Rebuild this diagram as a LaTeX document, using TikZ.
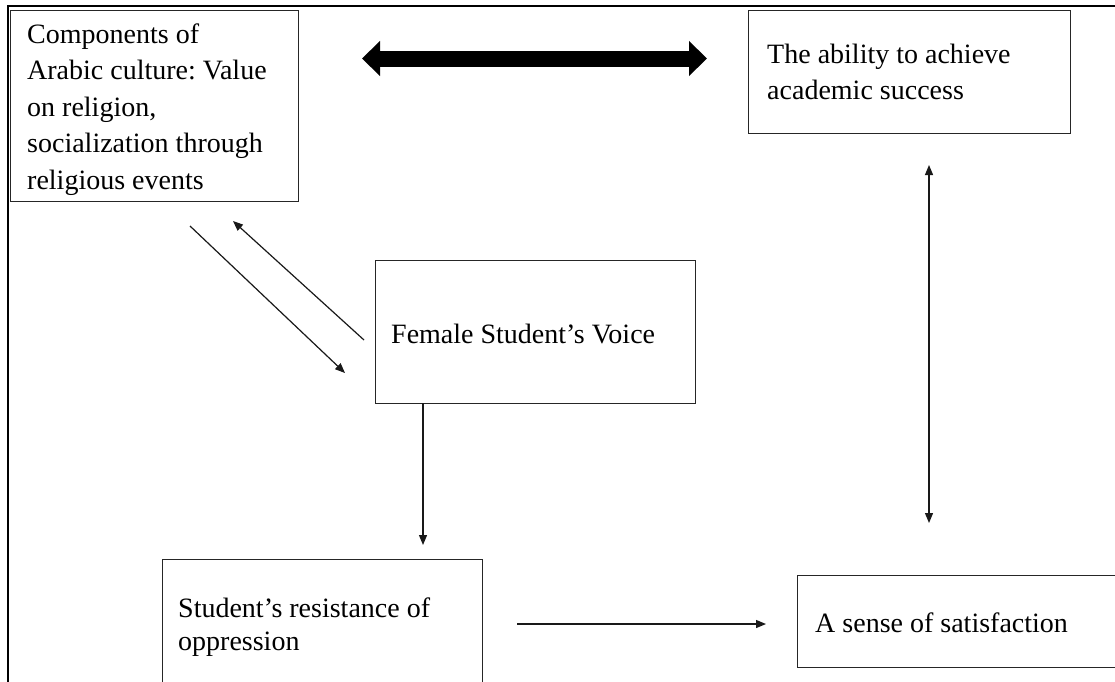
\documentclass[tikz,border=0pt]{standalone}
\usepackage{fontspec}
\setmainfont{Liberation Serif}
\usetikzlibrary{arrows.meta}
\frenchspacing
\newcommand{\mylines}[1]{\begin{tabular}[t]{@{}l@{}}#1\end{tabular}}
\begin{document}
\begin{tikzpicture}[x=1pt,y=-1pt,
  frame/.style={line width=2pt, draw=black},
  box/.style={draw=black!85, line width=1.4pt, inner sep=0pt, anchor=north west},
  txt/.style={anchor=base west, inner sep=0pt, font=\fontsize{28}{36.5}\selectfont\frenchspacing},
  txtb/.style={anchor=base west, inner sep=0pt, font=\fontsize{28}{33}\selectfont\frenchspacing},
  conn/.style={line width=1.2pt, draw=black!90, -{Triangle[length=10pt,width=8pt]}},
  dconn/.style={line width=1.2pt, draw=black!90, {Triangle[length=10pt,width=8pt]}-{Triangle[length=10pt,width=8pt]}},
  thick arrow/.style={line width=16pt, {Triangle[length=18pt,width=34pt]}-{Triangle[length=18pt,width=34pt]}}]
\useasboundingbox (0,0) rectangle (1115,681);
\clip (0,0) rectangle (1115,681);
\fill[white] (0,0) rectangle (1115,681);
% outer frame
\draw[frame] (8,690) -- (8,6) -- (1120,6);
% boxes
\node[box, minimum width=288pt, minimum height=191pt] (b1) at (10,10) {};
\node[box, minimum width=322pt, minimum height=123pt] (b2) at (748,10) {};
\node[box, minimum width=320pt, minimum height=143pt] (b3) at (375,260) {};
\node[box, minimum width=320pt, minimum height=140pt] (b4) at (162,559) {};
\node[box, minimum width=340pt, minimum height=92pt] (b5) at (797,575) {};
% texts
\node[txt] (t1) at (27,43.3) {\mylines{Components of\\Arabic culture: Value\\on religion,\\socialization through\\religious events}};
\node[txt] (t2) at (767,63) {\mylines{The ability to achieve\\academic success}};
\node[txt] (t3) at (391,343) {Female Student’s Voice};
\node[txtb] (t4) at (178,617) {\mylines{Student’s resistance of\\oppression}};
\node[txt] (t5) at (815,632) {A sense of satisfaction};
% connector end points
\coordinate (h1) at (362,58.5);
\coordinate (h2) at (707,58.5);
\coordinate (d1s) at (190,226);
\coordinate (d1e) at (345,373);
\coordinate (d2s) at (364,340);
\coordinate (d2e) at (233,221);
\coordinate (v1s) at (423,403);
\coordinate (v1e) at (423,545);
\coordinate (v2s) at (929,165);
\coordinate (v2e) at (929,523);
\coordinate (hs) at (517,624);
\coordinate (he) at (766,624);
% connectors
\draw[thick arrow] (h1) -- (h2);
\draw[conn] (d1s) -- (d1e);
\draw[conn] (d2s) -- (d2e);
\draw[conn] (v1s) -- (v1e);
\draw[dconn] (v2s) -- (v2e);
\draw[conn] (hs) -- (he);
\end{tikzpicture}
\end{document}
